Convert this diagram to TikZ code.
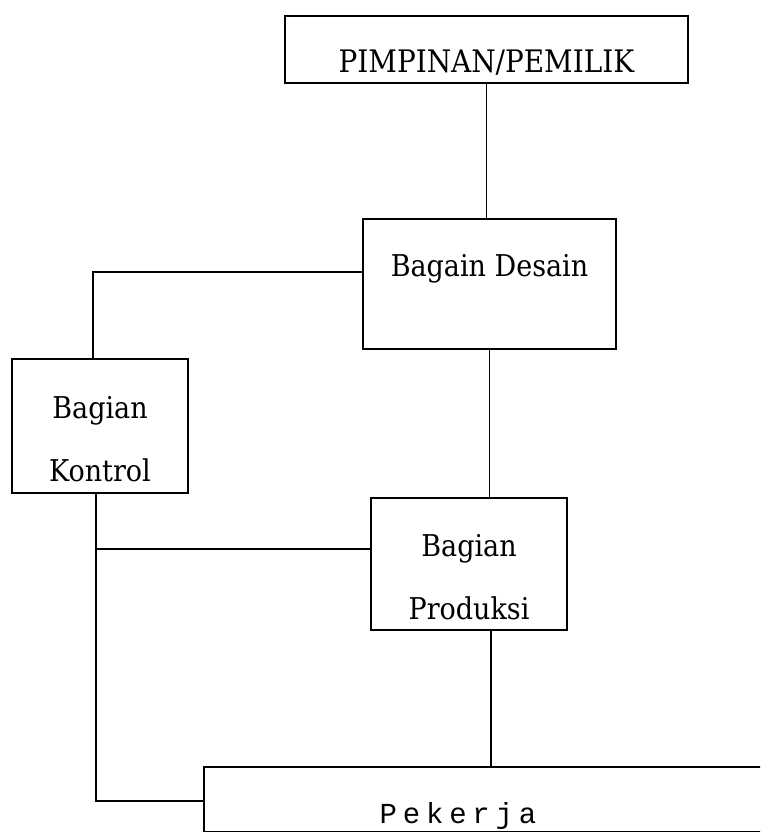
\documentclass[tikz,border=0pt]{standalone}
\usepackage{fontspec}
\newfontfamily\orgfont{DejaVu Serif Condensed}
\newfontfamily\pekfont[LetterSpace=20]{Liberation Mono}

\begin{document}
\begin{tikzpicture}[x=1pt,y=-1pt,
	box/.style={draw,line width=2pt,inner sep=0pt,font={\orgfont\fontsize{30}{63}\selectfont}},
	link/.style={line width=1.5pt}]
	\useasboundingbox (0,0) rectangle (760,832);
	\clip (0,0) rectangle (760,832);
	
	% Boxes
	\node[box,anchor=north,minimum width=403pt,text height=57pt,text depth=10pt,
		font={\orgfont\fontsize{31}{31}\selectfont}] (pimpinan) at (486.5,15) {PIMPINAN/PEMILIK};
	\node[box,anchor=north,minimum width=253pt,text height=57pt,text depth=73pt] (desain) at (489.5,218) {Bagain Desain};
	\node[box,anchor=north,minimum width=176pt,align=center,text height=122pt,text depth=12pt] (kontrol) at (100,358) {Bagian\\Kontrol};
	\node[box,anchor=north,minimum width=196pt,align=center,text height=121pt,text depth=11pt] (produksi) at (469,497) {Bagian\\Produksi};
	\node[box,anchor=north west,minimum width=600pt,minimum height=65pt] (pekerja) at (203,766) {};
	\node[anchor=base,font={\pekfont\fontsize{29}{29}\selectfont}] (pekerjatxt) at (458,823) {Pekerja};
	
	% Lines
	\coordinate (bend) at (93,272);
	\coordinate (tap) at (96,549);
	\coordinate (spine) at (96,801);
	\draw[link] (pimpinan.south) -- (pimpinan.south |- desain.north);
	\draw[link] (desain.west |- bend) -- (bend) -- (bend |- kontrol.north);
	\draw[link] (desain.south) -- (desain.south |- produksi.north);
	\draw[link] (produksi.west |- tap) -- (tap);
	\draw[link] (spine |- kontrol.south) -- (spine) -- (spine -| pekerja.west);
	\draw[link] ([xshift=22pt]produksi.south) -- ([xshift=22pt]produksi.south |- pekerja.north);
\end{tikzpicture}
\end{document}
